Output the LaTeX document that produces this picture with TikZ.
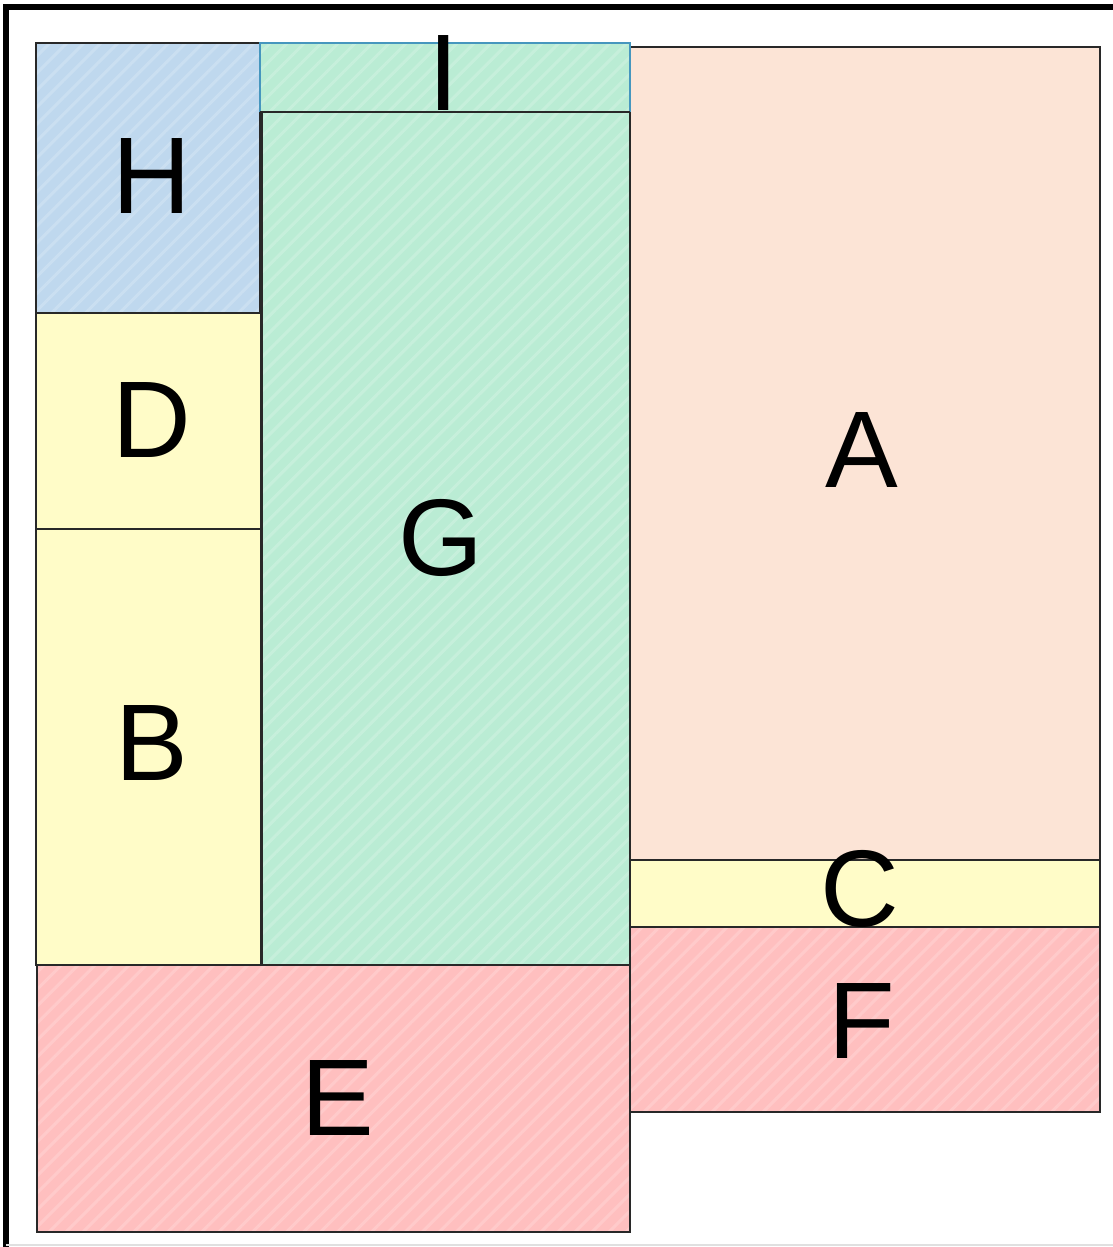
\documentclass[tikz,border=0pt]{standalone}
\usepackage{fontspec}
\setmainfont{Liberation Sans}
\usetikzlibrary{patterns.meta}
\definecolor{cblue}{RGB}{191,216,238}
\definecolor{cgreen}{RGB}{186,236,212}
\definecolor{cpeach}{RGB}{252,228,214}
\definecolor{cyellow}{RGB}{255,252,200}
\definecolor{cpink}{RGB}{255,191,191}
\definecolor{cedge}{RGB}{40,40,40}
\definecolor{cedgeblue}{RGB}{70,150,190}
\tikzset{
  region/.style={draw=cedge, line width=2pt},
  hatch/.style={pattern={Lines[angle=45,distance=12pt,line width=3pt]}, pattern color=white, opacity=0.18},
  lbl/.style={anchor=base, inner sep=0pt, font=\fontsize{109}{109}\selectfont, text=black}
}
\begin{document}
\begin{tikzpicture}[x=1pt,y=-1pt]
\useasboundingbox (0,0) rectangle (1113,1247);
\fill[white] (0,0) rectangle (1113,1247);
% frame
\draw[black, line width=6pt] (6,1247) -- (6,7) -- (1113,7);
\draw[black!12, line width=2pt] (6,1245) -- (1113,1245);
% fills
\fill[cpeach] (630,47) rectangle (1100,860);
\fill[cyellow] (630,860) rectangle (1100,927);
\fill[cpink] (630,927) rectangle (1100,1112);
\fill[hatch] (630,927) rectangle (1100,1112);
\fill[cpink] (37,965) rectangle (630,1232);
\fill[hatch] (37,965) rectangle (630,1232);
\fill[cyellow] (36,313) rectangle (261,965);
\fill[cblue] (36,43) rectangle (260,313);
\fill[hatch] (36,43) rectangle (260,313);
\fill[cgreen] (260,43) rectangle (630,965);
\fill[hatch] (260,43) rectangle (630,965);
% outlines
\draw[region] (630,47) rectangle (1100,860);   % A
\draw[region] (630,860) rectangle (1100,927);  % C
\draw[region] (630,927) rectangle (1100,1112); % F
\draw[region] (37,965) rectangle (630,1232);   % E
\draw[region] (36,529) rectangle (261,965);    % B
\draw[region] (36,313) rectangle (261,529);    % D
\draw[region] (36,43) rectangle (260,313);     % H
\draw[region] (262,112) rectangle (630,965);   % G
\draw[draw=cedgeblue, line width=2pt] (260,112) -- (260,43) -- (630,43) -- (630,112); % I
\draw[region] (260,112) -- (630,112);
% labels
\node[lbl] (H) at (152,213) {H};
\node[lbl] (I) at (444,110) {I};
\node[lbl] (D) at (152,457) {D};
\node[lbl] (G) at (441,575) {G};
\node[lbl] (A) at (862,487) {A};
\node[lbl] (B) at (152,780) {B};
\node[lbl] (C) at (860,926) {C};
\node[lbl] (F) at (862,1058) {F};
\node[lbl] (E) at (338,1135) {E};
\end{tikzpicture}
\end{document}
